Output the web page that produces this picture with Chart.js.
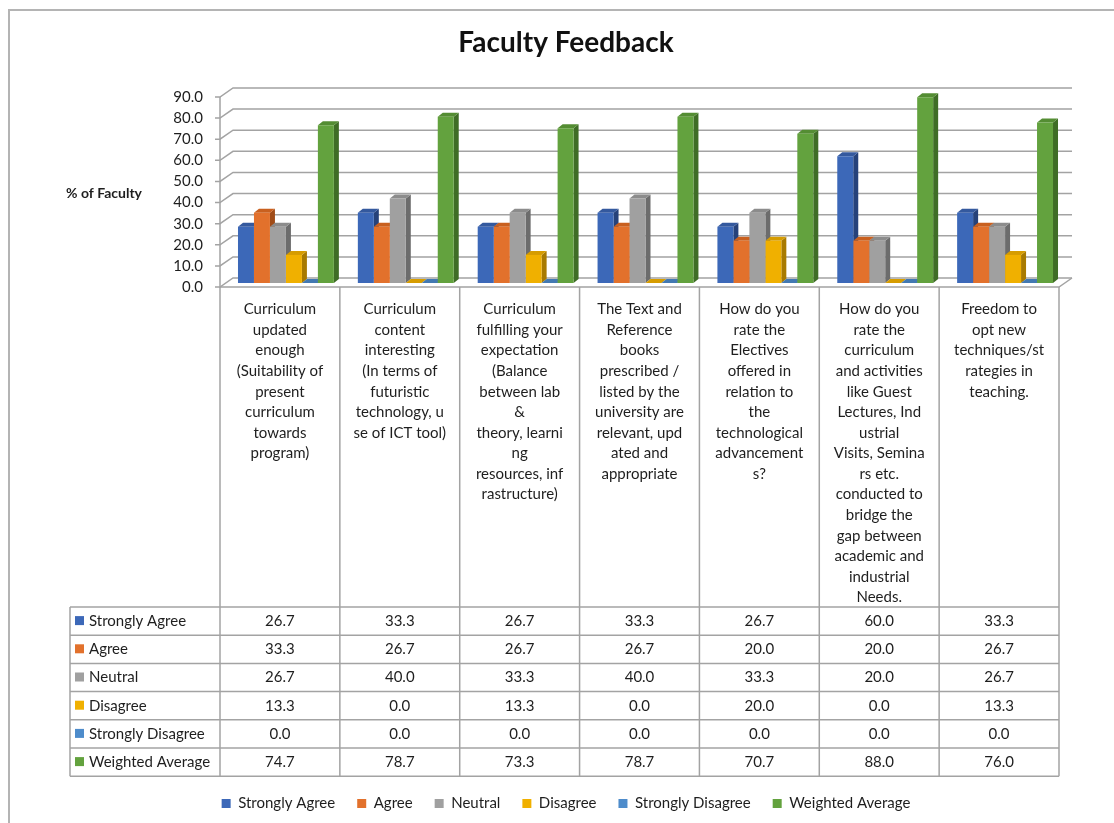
<!DOCTYPE html>
<html>
<head>
<meta charset="utf-8">
<title>Faculty Feedback</title>
<script src="https://cdn.jsdelivr.net/npm/chart.js@4.4.1/dist/chart.umd.min.js"></script>
<style>
  html, body { margin: 0; padding: 0; background: #fff; }
  #wrap { position: relative; width: 1114px; height: 823px; }
</style>
</head>
<body>
<div id="wrap"><canvas id="chart" width="1114" height="823"></canvas></div>
<script>
// category labels, wrapped the way the original cells wrap them
const categories = [
  ['Curriculum', 'updated', 'enough', '(Suitability of', 'present', 'curriculum', 'towards', 'program)'],
  ['Curriculum', 'content', 'interesting', '(In terms of', 'futuristic', 'technology, u', 'se of ICT tool)'],
  ['Curriculum', 'fulfilling your', 'expectation', '(Balance', 'between lab', '&', 'theory, learni', 'ng', 'resources, inf', 'rastructure)'],
  ['The Text and', 'Reference', 'books', 'prescribed /', 'listed by the', 'university are', 'relevant, upd', 'ated and', 'appropriate'],
  ['How do you', 'rate the', 'Electives', 'offered in', 'relation to', 'the', 'technological', 'advancement', 's?'],
  ['How do you', 'rate the', 'curriculum', 'and activities', 'like Guest', 'Lectures, Ind', 'ustrial', 'Visits, Semina', 'rs etc.', 'conducted to', 'bridge the', 'gap between', 'academic and', 'industrial', 'Needs.'],
  ['Freedom to', 'opt new', 'techniques/st', 'rategies in', 'teaching.']
]

const seriesNames = ['Strongly Agree', 'Agree', 'Neutral', 'Disagree', 'Strongly Disagree', 'Weighted Average']

const stronglyAgree    = [26.7, 33.3, 26.7, 33.3, 26.7, 60.0, 33.3]
const agree            = [33.3, 26.7, 26.7, 26.7, 20.0, 20.0, 26.7]
const neutral          = [26.7, 40.0, 33.3, 40.0, 33.3, 20.0, 26.7]
const disagree         = [13.3, 0.0, 13.3, 0.0, 20.0, 0.0, 13.3]
const stronglyDisagree = [0.0, 0.0, 0.0, 0.0, 0.0, 0.0, 0.0]
const weightedAverage  = [74.7, 78.7, 73.3, 78.7, 70.7, 88.0, 76.0]

const seriesValues = [stronglyAgree, agree, neutral, disagree, stronglyDisagree, weightedAverage]

// front / top / side shades for the 3d columns
const fronts = ['#3C68B8', '#E2712C', '#A0A0A0', '#F0B000', '#4E8CCB', '#63A23E']
const tops   = ['#34599E', '#C9601F', '#8C8C8C', '#D69C00', '#4379B2', '#548D33']
const sides  = ['#26427A', '#A04C18', '#6C6C6C', '#A87A00', '#345F8E', '#3F6D26']

const FX = -6, FY = 4    // front plane, relative to the columns
const BX = 7,  BY = -5   // back wall
const DX = 5,  DY = -4   // depth of one column

const TABLE_TOP = 607, ROW_H = 28.2, TABLE_LEFT = 70
const TEXT = '#1e1e1e'
const LINE = '#a3a3a3'

Chart.defaults.font.family = 'Lato'
Chart.defaults.color = TEXT

function poly(c, pts) {
  c.beginPath()
  c.moveTo(pts[0][0], pts[0][1])
  pts.slice(1).forEach(p => c.lineTo(p[0], p[1]))
  c.closePath()
  c.fill()
}

const frame3d = {
  id: 'frame3d',
  beforeDraw(chart) {
    const c = chart.ctx
    c.save()
    c.fillStyle = '#fff'
    c.fillRect(0, 0, chart.width, chart.height)
    c.strokeStyle = '#b4b4b4'
    c.lineWidth = 2
    c.beginPath()
    c.moveTo(9, chart.height)
    c.lineTo(9, 10)
    c.lineTo(chart.width, 10)
    c.stroke()
    c.restore()
  },
  beforeDatasetsDraw(chart) {
    const c = chart.ctx, ys = chart.scales.y
    const L = chart.chartArea.left, R = chart.chartArea.right
    c.save()
    c.strokeStyle = LINE
    c.lineWidth = 1.5
    ys.ticks.forEach(t => {
      const y = ys.getPixelForValue(t.value)
      c.beginPath()
      c.moveTo(L + FX - 5, y + FY)
      c.lineTo(L + FX, y + FY)
      c.lineTo(L + BX, y + BY)
      c.lineTo(R + BX, y + BY)
      c.stroke()
    })
    const y0 = ys.getPixelForValue(0), yMax = ys.getPixelForValue(ys.max)
    c.beginPath()
    c.moveTo(L + FX, yMax + FY)
    c.lineTo(L + FX, y0 + FY)
    c.lineTo(R + FX, y0 + FY)
    c.lineTo(R + BX, y0 + BY)
    c.stroke()

    // sides and tops go first, the next column's front covers what it should
    chart.data.datasets.forEach((ds, di) => {
      chart.getDatasetMeta(di).data.forEach(bar => {
        const l = bar.x - bar.width / 2, r = bar.x + bar.width / 2, t = bar.y, b = bar.base
        c.fillStyle = sides[di]
        poly(c, [[r, t], [r + DX, t + DY], [r + DX, b + DY], [r, b]])
        c.fillStyle = tops[di]
        poly(c, [[l, t], [l + DX, t + DY], [r + DX, t + DY], [r, t]])
      })
    })
    c.restore()
  },
  afterDraw(chart) {
    const c = chart.ctx, xs = chart.scales.x, ys = chart.scales.y
    const y0 = ys.getPixelForValue(0) + FY
    const edges = categories.map((_, i) => xs.getPixelForValue(i - 0.5) + FX)
    edges.push(xs.getPixelForValue(categories.length - 0.5) + FX)
    const right = edges[edges.length - 1]
    const bottom = TABLE_TOP + ROW_H * seriesNames.length

    c.save()
    c.strokeStyle = LINE
    c.lineWidth = 1.5
    edges.forEach(x => {
      c.beginPath(); c.moveTo(x, y0); c.lineTo(x, bottom); c.stroke()
    })
    c.beginPath(); c.moveTo(TABLE_LEFT, TABLE_TOP); c.lineTo(TABLE_LEFT, bottom); c.stroke()
    for (let r = 0; r <= seriesNames.length; r++) {
      const y = TABLE_TOP + r * ROW_H
      c.beginPath(); c.moveTo(TABLE_LEFT, y); c.lineTo(right, y); c.stroke()
    }

    c.font = '15px Lato'
    c.textBaseline = 'middle'
    seriesNames.forEach((name, r) => {
      const cy = TABLE_TOP + r * ROW_H + ROW_H / 2
      c.fillStyle = fronts[r]
      c.fillRect(TABLE_LEFT + 5, cy - 5, 9, 9)
      c.fillStyle = TEXT
      c.textAlign = 'left'
      c.fillText(name, TABLE_LEFT + 19, cy)
      c.textAlign = 'center'
      seriesValues[r].forEach((v, i) => {
        c.fillText(v.toFixed(1), (edges[i] + edges[i + 1]) / 2, cy)
      })
    })

    c.font = 'bold 14px Lato'
    c.textAlign = 'center'
    c.fillText('% of Faculty', 104, 193)
    c.restore()
  }
}

const datasets = seriesNames.map((name, i) => ({
  label: name,
  data: seriesValues[i],
  backgroundColor: fronts[i],
  borderWidth: 0,
  barPercentage: 1.0,
  categoryPercentage: 0.8
}))

const chart = new Chart(document.getElementById('chart'), {
  type: 'bar',
  data: { labels: categories, datasets: datasets },
  options: {
    responsive: false,
    animation: false,
    devicePixelRatio: 1,
    layout: { padding: { left: 67, right: 49, top: 0, bottom: 2 } },
    plugins: {
      title: {
        display: true,
        text: 'Faculty Feedback',
        color: '#111',
        font: { size: 28, weight: 'bold' },
        padding: { top: 26, bottom: 33.4 }
      },
      legend: {
        position: 'bottom',
        labels: { boxWidth: 9, boxHeight: 9, padding: 22, font: { size: 15 }, color: TEXT }
      },
      tooltip: { enabled: false }
    },
    scales: {
      x: {
        grid: { display: false, drawTicks: false },
        border: { display: false },
        ticks: {
          autoSkip: false, maxRotation: 0, padding: 16, labelOffset: FX,
          font: { size: 15, lineHeight: 1.373 }, color: TEXT
        },
        afterFit(s) { s.height = 491 }
      },
      y: {
        min: 0, max: 90,
        grid: { display: false, drawTicks: false },
        border: { display: false },
        ticks: {
          stepSize: 10, padding: 23, labelOffset: FY,
          font: { size: 15 }, color: TEXT,
          callback: v => v.toFixed(1)
        },
        afterFit(s) { s.width = 159 }
      }
    }
  },
  plugins: [frame3d]
})
</script>
</body>
</html>
